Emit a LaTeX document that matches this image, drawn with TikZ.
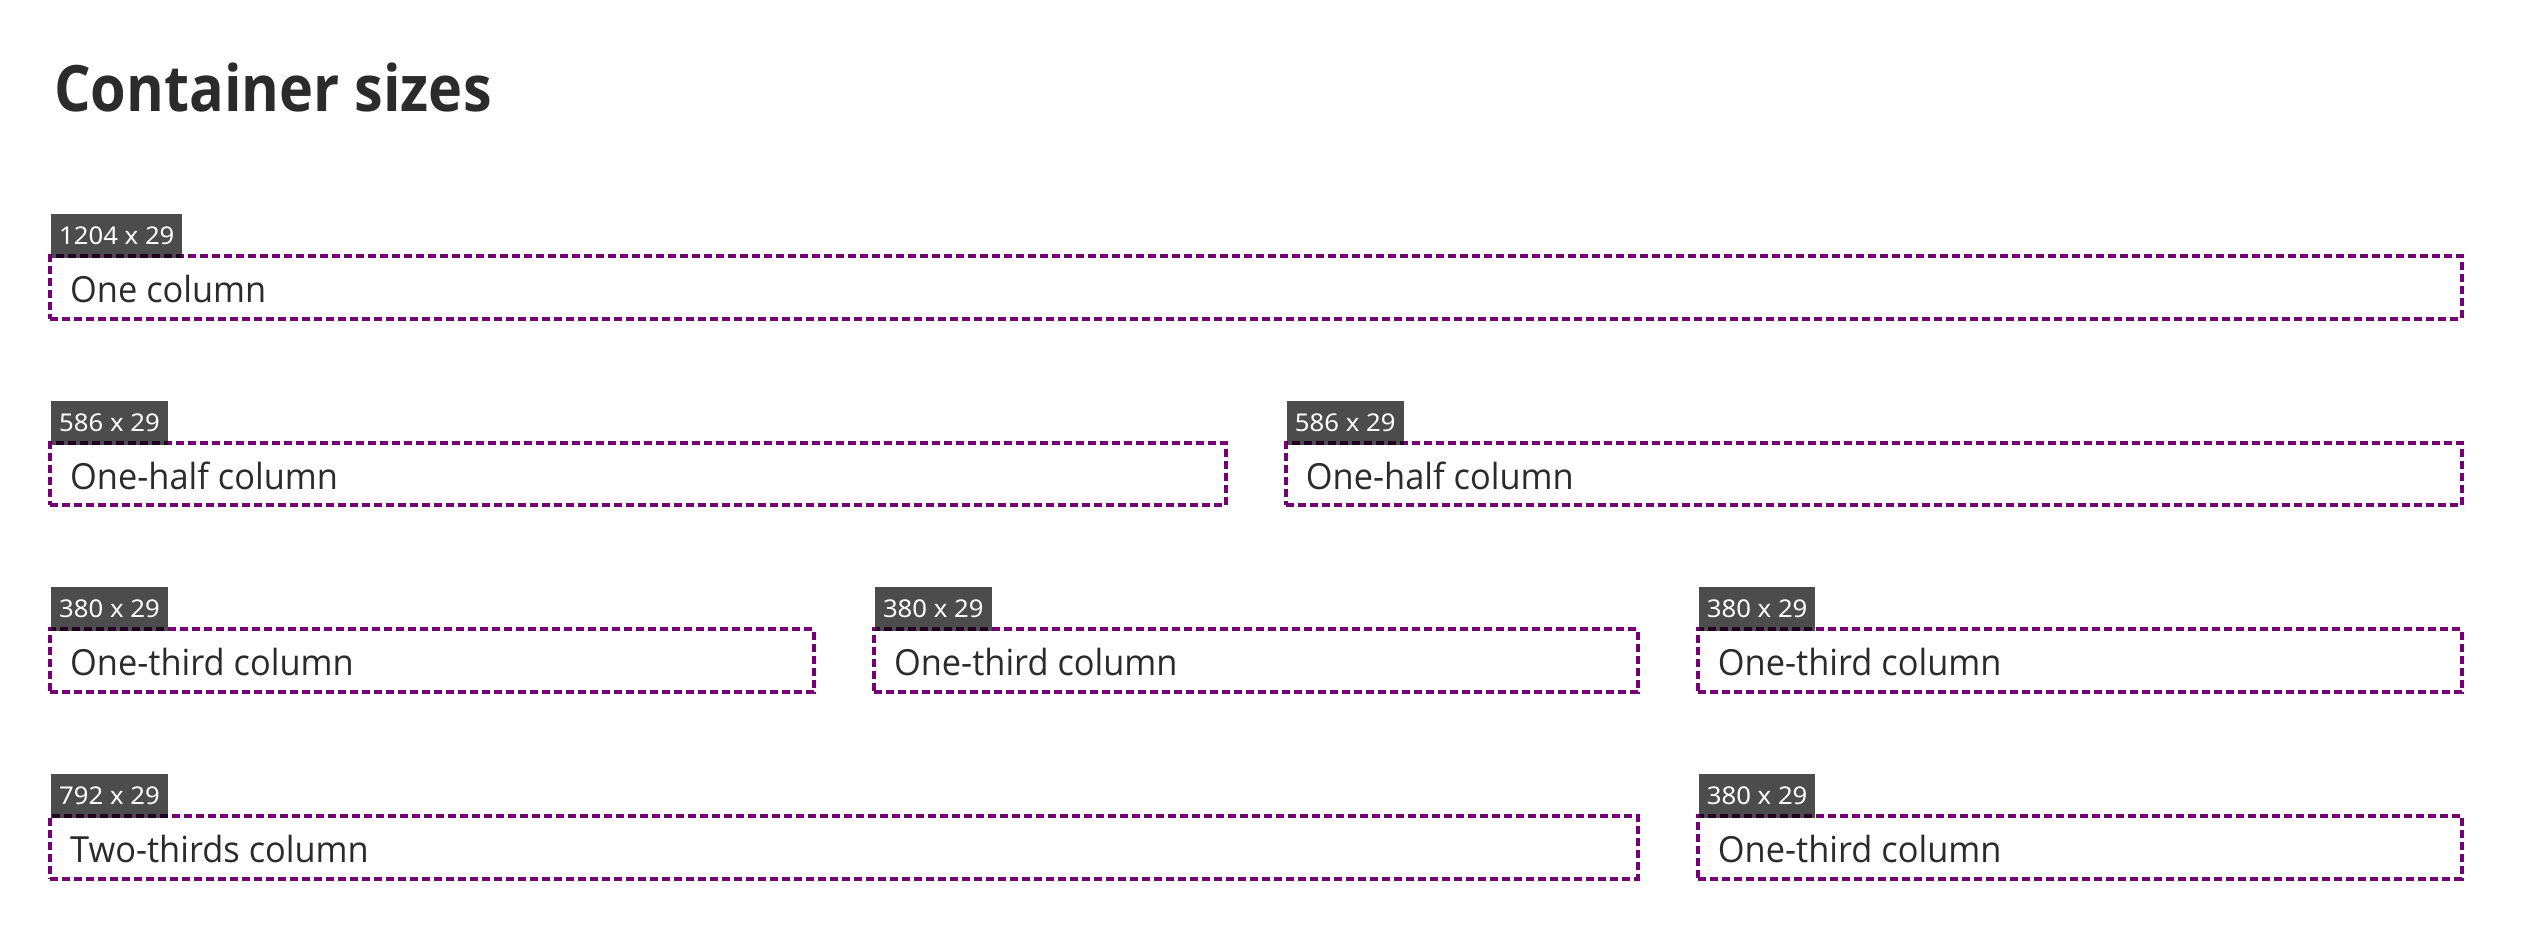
\documentclass[tikz,border=0pt]{standalone}
\usepackage{fontspec}
\setmainfont[FakeStretch=0.955]{Open Sans}
\newfontfamily\titlefont[FakeStretch=0.9]{Open Sans}
\newfontfamily\tagfont[FakeStretch=1.05]{Noto Sans}
\usetikzlibrary{calc}
\definecolor{boxpurple}{HTML}{750075}
\definecolor{txt}{HTML}{2B2B2B}
\tikzset{
  cbox/.style={draw=boxpurple, line width=4pt, dash pattern=on 8pt off 4pt,
    minimum height=62.5pt, inner sep=0pt, outer sep=0pt, anchor=north west},
  lbl/.style={anchor=base west, inner sep=0pt, text=txt,
    font=\fontsize{36}{40}\selectfont},
  tagbox/.style={anchor=south west, fill=black, fill opacity=0.7, text opacity=1,
    text=white, inner xsep=8pt, inner ysep=0pt, minimum height=44pt,
    text height=17.5pt, text depth=0pt, font=\tagfont\fontsize{24.5}{26}\selectfont},
}
\begin{document}
\begin{tikzpicture}[x=1pt,y=-1pt]
\useasboundingbox (0,0) rectangle (2524,936);
\node[anchor=base west, inner sep=0pt, text=txt, font=\titlefont\bfseries\fontsize{64}{70}\selectfont] (title) at (54,112) {Container sizes};

% row 1
\node[cbox, minimum width=2411.5pt] (r1) at (50,256) {};
% row 2
\node[cbox, minimum width=1175.75pt] (r2a) at (50,442.7) {};
\node[cbox, minimum width=1175.75pt] (r2b) at (1285.75,442.7) {};
% row 3
\node[cbox, minimum width=763.8pt] (r3a) at (50,629.3) {};
\node[cbox, minimum width=763.8pt] (r3b) at (873.8,629.3) {};
\node[cbox, minimum width=763.8pt] (r3c) at (1697.7,629.3) {};
% row 4
\node[cbox, minimum width=1587.7pt] (r4a) at (50,816) {};
\node[cbox, minimum width=763.8pt] (r4b) at (1697.7,816) {};

\foreach \b/\t/\g in {r1/One column/1204 x 29,
  r2a/One-half column/586 x 29, r2b/One-half column/586 x 29,
  r3a/One-third column/380 x 29, r3b/One-third column/380 x 29, r3c/One-third column/380 x 29,
  r4a/Two-thirds column/792 x 29, r4b/One-third column/380 x 29}{
  \node[lbl] (\b-text) at ($(\b.north west)+(20,46.3)$) {\t};
  \node[tagbox] (\b-tag) at ($(\b.north west)+(1,2)$) {\g};
}
\end{tikzpicture}
\end{document}
